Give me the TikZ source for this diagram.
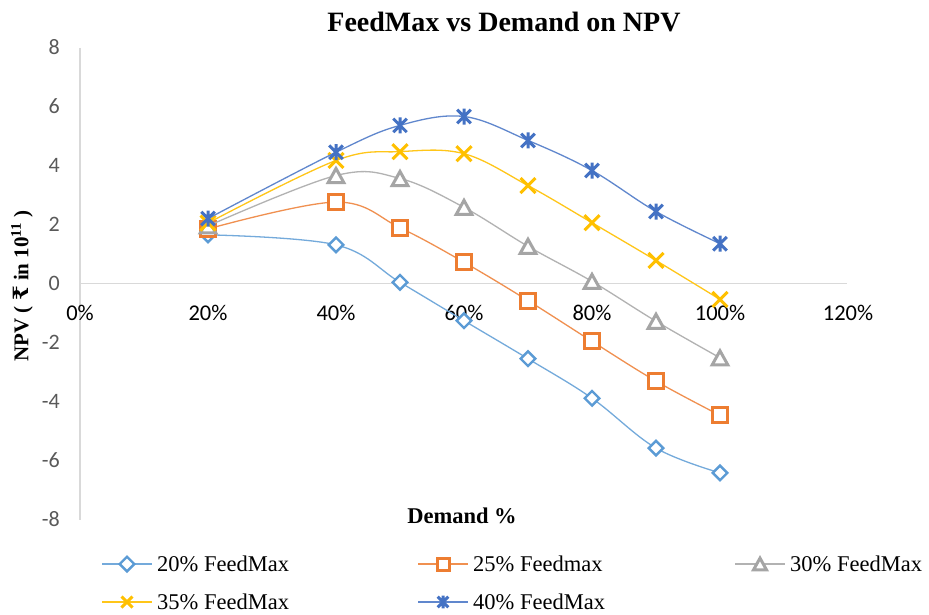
\documentclass[tikz,border=0pt]{standalone}
\usepackage{fontspec}
\setmainfont{Liberation Serif}
\newfontfamily\tickfont{Carlito}
\newfontfamily\rupeefont{DejaVu Serif}
\definecolor{cA}{HTML}{5B9BD5}
\definecolor{cB}{HTML}{ED7D31}
\definecolor{cC}{HTML}{A5A5A5}
\definecolor{cD}{HTML}{FFC000}
\definecolor{cE}{HTML}{4472C4}
\definecolor{axisgray}{HTML}{D9D9D9}
\definecolor{tickgray}{HTML}{595959}
\pgfdeclareplotmark{mdiam}{%
  \pgfpathmoveto{\pgfqpoint{0pt}{\pgfplotmarksize}}%
  \pgfpathlineto{\pgfqpoint{\pgfplotmarksize}{0pt}}%
  \pgfpathlineto{\pgfqpoint{0pt}{-\pgfplotmarksize}}%
  \pgfpathlineto{\pgfqpoint{-\pgfplotmarksize}{0pt}}%
  \pgfpathclose\pgfusepathqfillstroke}
\pgfdeclareplotmark{msq}{%
  \pgfpathrectangle{\pgfqpoint{-\pgfplotmarksize}{-\pgfplotmarksize}}{\pgfqpoint{2\pgfplotmarksize}{2\pgfplotmarksize}}%
  \pgfusepathqfillstroke}
\pgfdeclareplotmark{mtri}{%
  \pgfpathmoveto{\pgfqpoint{0pt}{0.9\pgfplotmarksize}}%
  \pgfpathlineto{\pgfqpoint{\pgfplotmarksize}{-0.9\pgfplotmarksize}}%
  \pgfpathlineto{\pgfqpoint{-\pgfplotmarksize}{-0.9\pgfplotmarksize}}%
  \pgfpathclose\pgfusepathqfillstroke}
\pgfdeclareplotmark{mcross}{%
  \pgfpathmoveto{\pgfqpoint{-\pgfplotmarksize}{-\pgfplotmarksize}}%
  \pgfpathlineto{\pgfqpoint{\pgfplotmarksize}{\pgfplotmarksize}}%
  \pgfpathmoveto{\pgfqpoint{-\pgfplotmarksize}{\pgfplotmarksize}}%
  \pgfpathlineto{\pgfqpoint{\pgfplotmarksize}{-\pgfplotmarksize}}%
  \pgfusepathqstroke}
\pgfdeclareplotmark{mstar}{%
  \pgfpathmoveto{\pgfqpoint{0pt}{\pgfplotmarksize}}%
  \pgfpathlineto{\pgfqpoint{0pt}{-\pgfplotmarksize}}%
  \pgfpathmoveto{\pgfqpoint{-0.85\pgfplotmarksize}{-0.85\pgfplotmarksize}}%
  \pgfpathlineto{\pgfqpoint{0.85\pgfplotmarksize}{0.85\pgfplotmarksize}}%
  \pgfpathmoveto{\pgfqpoint{-0.85\pgfplotmarksize}{0.85\pgfplotmarksize}}%
  \pgfpathlineto{\pgfqpoint{0.85\pgfplotmarksize}{-0.85\pgfplotmarksize}}%
  \pgfusepathqstroke}
\tikzset{
  axisline/.style={draw=axisgray, line width=1.2pt},
  ytick/.style={font=\tickfont\fontsize{22}{25}\selectfont, text=tickgray, anchor=east, inner sep=0pt},
  xtick/.style={font=\tickfont\fontsize{22.5}{25}\selectfont, text=black, inner sep=0pt},
  legtext/.style={font=\fontsize{22.5}{26}\selectfont, anchor=west, inner sep=0pt},
  curveA/.style={draw=cA!85!white, line width=1.3pt, mark=mdiam, mark size=7.3pt,
     mark options={draw=cA, fill=white, line width=2.4pt}},
  curveB/.style={draw=cB!85!white, line width=1.3pt, mark=msq, mark size=7.5pt,
     mark options={draw=cB, fill=white, line width=3pt}},
  curveC/.style={draw=cC!85!white, line width=1.3pt, mark=mtri, mark size=7.8pt,
     mark options={draw=cC, fill=white, line width=3pt}},
  curveD/.style={draw=cD!90!white, line width=1.3pt, mark=mcross, mark size=7.5pt,
     mark options={draw=cD, line width=3pt}},
  curveE/.style={draw=cE!85!white, line width=1.3pt, mark=mstar, mark size=8pt,
     mark options={draw=cE, line width=3pt}},
}
\begin{document}
\begin{tikzpicture}[x=1pt,y=-1pt]
\useasboundingbox[fill=white] (0,0) rectangle (929,615);
% title
\node[font=\bfseries\fontsize{28}{31}\selectfont] (title) at (504,22) {FeedMax vs Demand on NPV};
% axes
\coordinate (vtop) at (80,48);
\coordinate (vbot) at (80,520);
\coordinate (hleft) at (80,283.5);
\coordinate (hright) at (847,283.5);
\draw[axisline] (vtop) -- (vbot);
\draw[axisline] (hleft) -- (hright);
% y ticks
\foreach \v in {8,6,4,2,0,-2,-4,-6,-8}
  \node[ytick] (yt\v) at (60,283.5-29.5*\v) {\v};
% x ticks
\foreach \p in {0,20,40,60,80,100,120}
  \node[xtick] (xt\p) at (80+6.4*\p,313) {\p\%};
% axis titles
\node[font=\bfseries\fontsize{22.5}{26}\selectfont] (xtitle) at (462,516) {Demand \%};
\node[rotate=90, font=\bfseries\fontsize{21}{24}\selectfont] (ytitle) at (22,286)
  {NPV ( {\rupeefont\bfseries ₹} in 10\textsuperscript{11} )};
% curves
\begin{scope}[shift={(80,283.5)}, x=6.4pt, y=29.5pt]
\draw[curveA] plot[smooth, tension=0.6] coordinates
  {(20,1.65) (40,1.31) (50,0.04) (60,-1.26) (70,-2.55) (80,-3.89) (90,-5.58) (100,-6.42)};
\draw[curveB] plot[smooth, tension=0.6] coordinates
  {(20,1.85) (40,2.76) (50,1.89) (60,0.72) (70,-0.58) (80,-1.96) (90,-3.31) (100,-4.47)};
\draw[curveC] plot[smooth, tension=0.6] coordinates
  {(20,1.95) (40,3.66) (50,3.56) (60,2.58) (70,1.26) (80,0.07) (90,-1.28) (100,-2.52)};
\draw[curveD] plot[smooth, tension=0.6] coordinates
  {(20,2.05) (40,4.17) (50,4.47) (60,4.4) (70,3.32) (80,2.06) (90,0.78) (100,-0.54)};
\draw[curveE] plot[smooth, tension=0.6] coordinates
  {(20,2.2) (40,4.45) (50,5.36) (60,5.66) (70,4.85) (80,3.83) (90,2.44) (100,1.35)};
\end{scope}
% legend
\coordinate (lA1) at (102,564); \coordinate (lA2) at (152,564);
\coordinate (lB1) at (418,564); \coordinate (lB2) at (468,564);
\coordinate (lC1) at (735,564); \coordinate (lC2) at (785,564);
\coordinate (lD1) at (102,602); \coordinate (lD2) at (152,602);
\coordinate (lE1) at (418,602); \coordinate (lE2) at (468,602);
\draw[curveA] plot[mark indices={2}] coordinates {(lA1) (127,564) (lA2)};
\draw[curveB, mark size=6pt] plot[mark indices={2}] coordinates {(lB1) (443,564) (lB2)};
\draw[curveC, mark size=6.5pt] plot[mark indices={2}] coordinates {(lC1) (760,564) (lC2)};
\draw[curveD, mark size=5.5pt] plot[mark indices={2}] coordinates {(lD1) (127,602) (lD2)};
\draw[curveE, mark size=6.3pt] plot[mark indices={2}] coordinates {(lE1) (443,602) (lE2)};
\node[legtext] (tA) at (157,564) {20\% FeedMax};
\node[legtext] (tB) at (473,564) {25\% Feedmax};
\node[legtext] (tC) at (790,564) {30\% FeedMax};
\node[legtext] (tD) at (157,602) {35\% FeedMax};
\node[legtext] (tE) at (473,602) {40\% FeedMax};
\end{tikzpicture}
\end{document}
